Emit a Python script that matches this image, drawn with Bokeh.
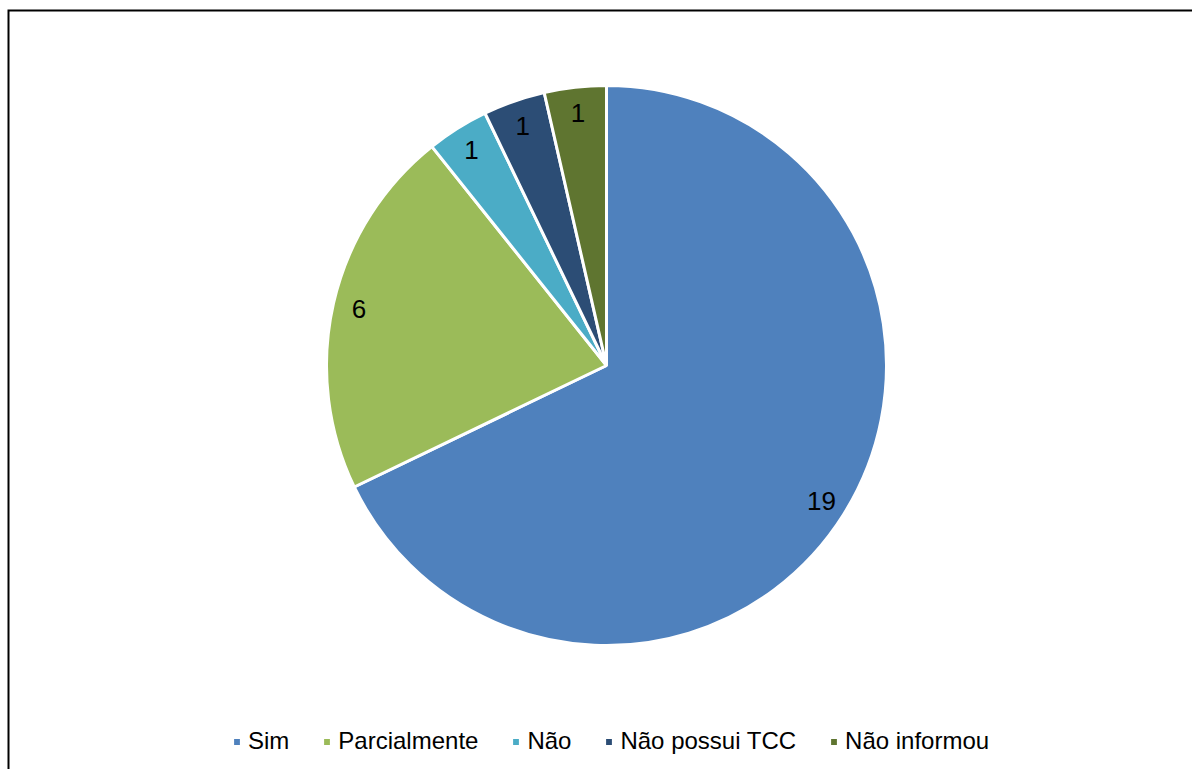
import math

from bokeh.core.properties import value
from bokeh.embed import file_html
from bokeh.models import ColumnDataSource, Legend, LegendItem, Range1d
from bokeh.plotting import figure
from bokeh.resources import INLINE

# Responses per category
categories = ["Sim", "Parcialmente", "Não", "Não possui TCC", "Não informou"]
counts = [19, 6, 1, 1, 1]
colors = ["#4F81BD", "#9BBB59", "#4BACC6", "#2C4D75", "#5F7530"]

W, H = 1192, 769
FONT = "Liberation Sans"

# Pie geometry (data units equal screen pixels)
cx, cy, R = 606, H - 365, 280
label_r = 254

total = sum(counts)
starts, ends, lx, ly = [], [], [], []
cum = 0
for c in counts:
    a0 = math.pi / 2 - 2 * math.pi * cum / total
    a1 = math.pi / 2 - 2 * math.pi * (cum + c) / total
    starts.append(a1)
    ends.append(a0)
    mid = (a0 + a1) / 2
    lx.append(cx + label_r * math.cos(mid))
    ly.append(cy + label_r * math.sin(mid))
    cum += c

src = ColumnDataSource(dict(
    cat=categories, count=counts, color=colors,
    start=starts, end=ends, lx=lx, ly=ly,
    label=[str(c) for c in counts],
))

p = figure(width=W, height=H, output_backend="svg", toolbar_location=None,
           x_range=Range1d(0, W), y_range=Range1d(0, H),
           min_border=0, outline_line_color=None)
p.axis.visible = False
p.grid.visible = False
p.background_fill_color = "white"
p.border_fill_color = "white"

# Chart frame (left and top edges)
p.line(x=[8, 8, W + 20], y=[-20, H - 10, H - 10], line_color="black",
       line_width=2, line_join="miter")

wedges = p.wedge(x=cx, y=cy, radius=R, start_angle="start", end_angle="end",
                 direction="anticlock", fill_color="color", line_color="white",
                 line_width=3, source=src)

p.text(x="lx", y="ly", text="label", text_align="center",
       text_baseline="middle", text_font=value(FONT),
       text_font_size="26px", text_color="black", source=src)

legend = Legend(
    items=[LegendItem(label=categories[i], renderers=[wedges], index=i)
           for i in range(len(categories))],
    orientation="horizontal", location=(231, 14),
    glyph_width=11, glyph_height=11, label_standoff=6, spacing=32,
    padding=0, margin=0, border_line_color=None,
    background_fill_alpha=0, label_text_font=FONT,
    label_text_font_size="24px", label_text_color="black",
)
p.add_layout(legend, "center")

open("out.html", "w").write(file_html(p, INLINE))
